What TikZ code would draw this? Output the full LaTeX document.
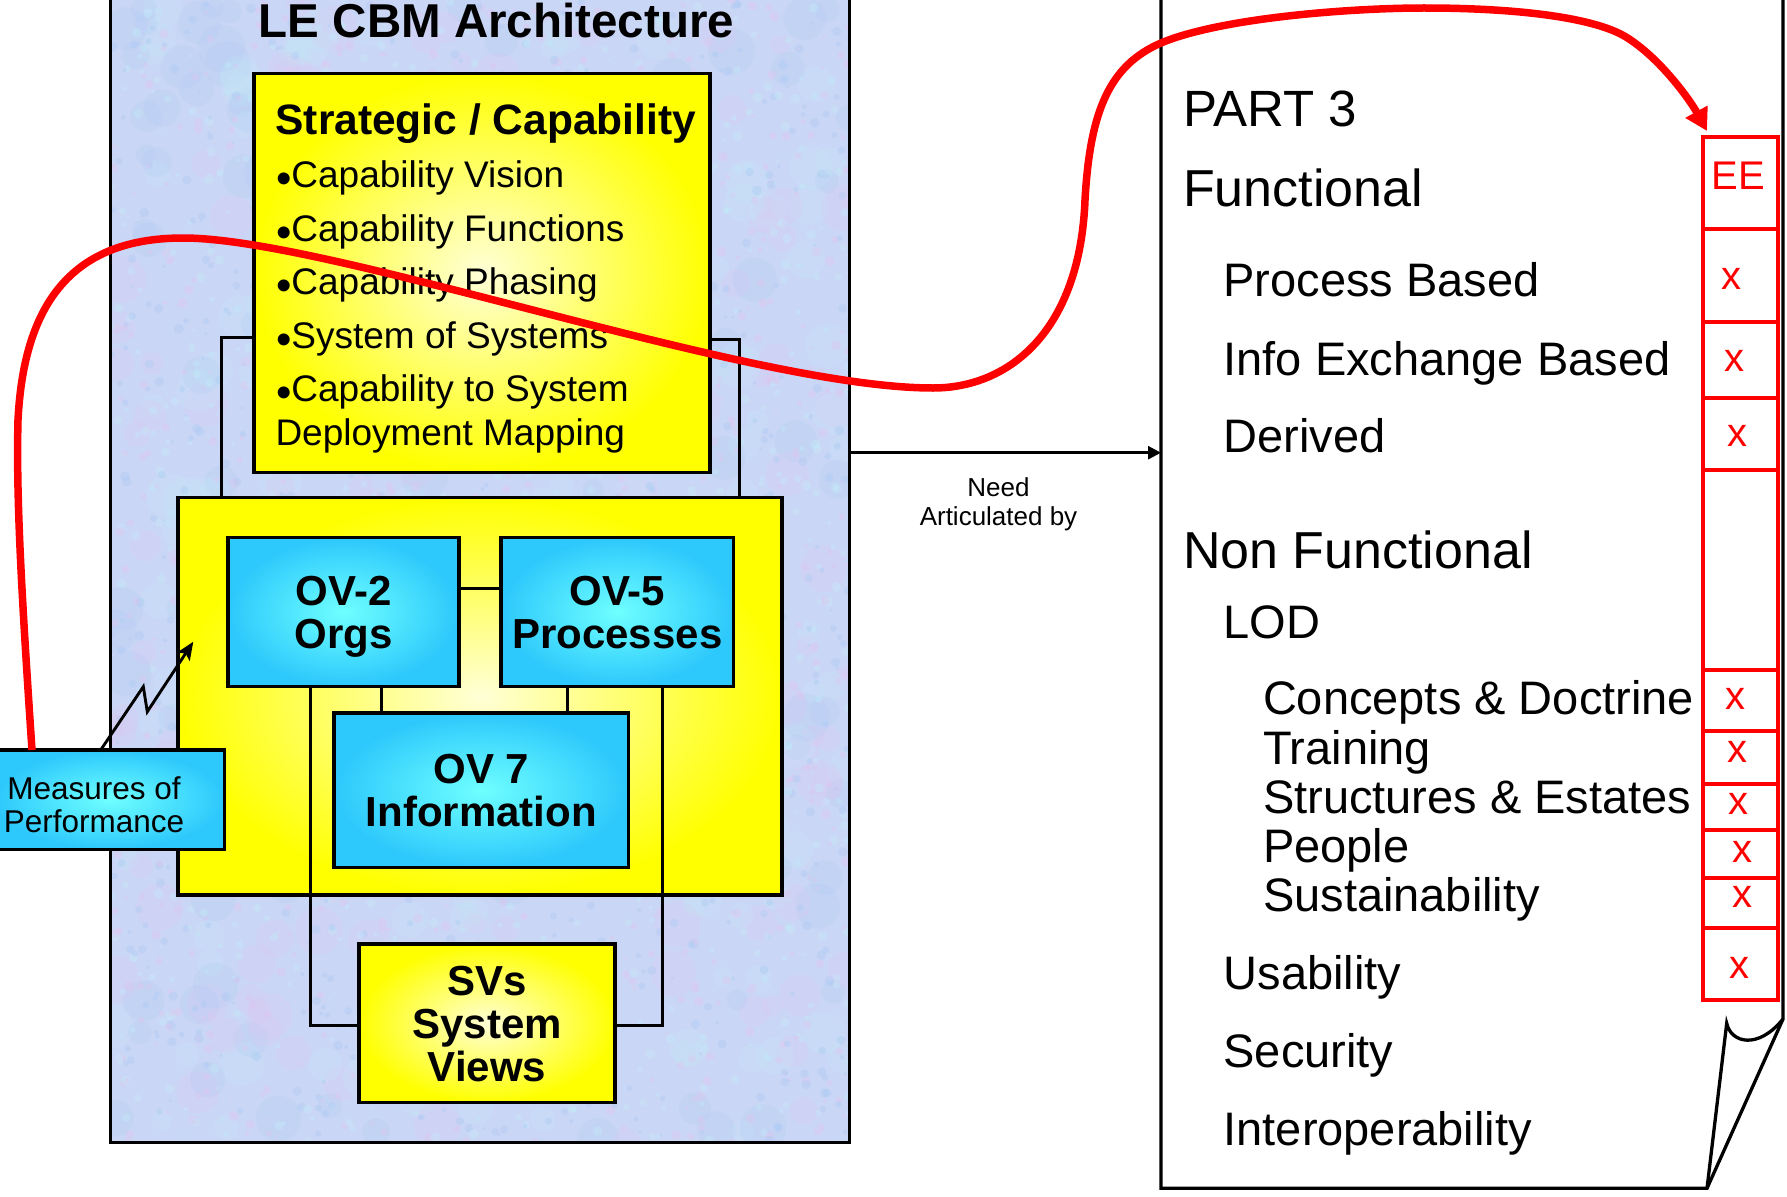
\documentclass[tikz,border=0pt]{standalone}
\usepackage{fontspec}
\setmainfont{Liberation Sans}
\usetikzlibrary{arrows.meta}

\definecolor{lav}{RGB}{202,214,245}
\definecolor{blot1}{RGB}{226,196,240}
\definecolor{blot2}{RGB}{168,202,244}
\definecolor{blot3}{RGB}{194,238,250}
\definecolor{yout}{RGB}{255,255,0}
\definecolor{yin}{RGB}{255,255,215}
\definecolor{bout}{RGB}{45,200,252}
\definecolor{bin}{RGB}{110,255,255}
\definecolor{redc}{RGB}{255,0,0}

\newcommand\bul{\raisebox{-6pt}{\fontsize{44}{44}\selectfont •}}

\begin{document}
\begin{tikzpicture}[x=1pt,y=-1pt,
  every node/.style={inner sep=0pt, outer sep=0pt},
  ybox/.style={rectangle, draw=black, line width=3.5pt, shading=radial, inner color=yin, outer color=yout},
  bbox/.style={rectangle, draw=black, line width=3.5pt, shading=radial, inner color=bin, outer color=bout},
  conn/.style={draw=black, line width=3pt},
  boldlbl/.style={align=center, text depth=0pt, font=\bfseries\fontsize{42}{43}\selectfont},
  bulletline/.style={anchor=base west, font=\fontsize{37}{40}\selectfont},
  pagehead/.style={anchor=base west, font=\fontsize{52}{56}\selectfont},
  pageitem/.style={anchor=base west, font=\fontsize{47}{50}\selectfont},
  redmark/.style={anchor=base, text=redc, font=\fontsize{40}{44}\selectfont},
  redcell/.style={draw=redc, line width=4pt},
  pageline/.style={draw=black, line width=3.3pt},
  redcurve/.style={draw=redc, line width=7.5pt, -{Triangle[length=22pt,width=24pt]}}
]
\useasboundingbox (0,0) rectangle (1787,1196);

% ---------- architecture panel with mottled paper texture ----------
\node[fill=lav, minimum width=738.5, minimum height=1160, anchor=north west] (panel) at (110.5,-18) {};
\begin{scope}
  \clip (panel.north west) rectangle (panel.south east);
  \pgfmathsetseed{4242}
  % soft large patches
  \foreach \i in {1,...,500}{
    \pgfmathsetmacro{\bx}{110+740*rnd}
    \pgfmathsetmacro{\by}{1145*rnd}
    \pgfmathsetmacro{\br}{10+14*rnd}
    \pgfmathtruncatemacro{\bc}{random(1,3)}
    \fill[blot\bc, opacity=0.18] (\bx,\by) circle (\br);
  }
  % fine grain
  \foreach \i in {1,...,2600}{
    \pgfmathsetmacro{\bx}{110+740*rnd}
    \pgfmathsetmacro{\by}{1145*rnd}
    \pgfmathsetmacro{\br}{1.5+3.5*rnd}
    \pgfmathtruncatemacro{\bc}{random(1,3)}
    \fill[blot\bc, opacity=0.35] (\bx,\by) circle (\br);
  }
\end{scope}
\draw[line width=3pt] (panel.north west) rectangle (panel.south east);

\node[anchor=base, font=\bfseries\fontsize{47.5}{50}\selectfont] (title) at (496.5,38) {LE CBM Architecture};

% ---------- strategic / capability ----------
\node[ybox, minimum width=456, minimum height=399] (strat) at (482,273) {};
\node[ybox, minimum width=604, minimum height=397.5] (ovbox) at (480,696.25) {};
\draw[conn] (strat.west |- 0,337) -| (221,0 |- ovbox.north);
\draw[conn] (strat.east |- 0,339.5) -| (739,0 |- ovbox.north);

\node[anchor=base west, font=\bfseries\fontsize{42.5}{44}\selectfont] (sc0) at (275.5,135) {Strategic / Capability};
\foreach \yy/\lbl [count=\k] in {187.5/Capability Vision, 241/Capability Functions, 294.7/Capability Phasing, 348/System of Systems, 401.8/Capability to System}{
  \node[bulletline] (sc\k) at (276,\yy) {\bul\lbl};
}
\node[bulletline] (sc6) at (275.5,445.8) {Deployment Mapping};

% ---------- operational views ----------
\node[bbox, boldlbl, minimum width=231, minimum height=148.7] (ov2) at (343.5,612) {OV-2\\Orgs};
\node[bbox, boldlbl, minimum width=232.6, minimum height=148.7] (ov5) at (617.3,612) {OV-5\\Processes};
\node[bbox, boldlbl, minimum width=294.6, minimum height=154.5] (ov7) at (481.3,790.25) {OV 7\\Information};
\draw[conn] (ov2.east |- 0,588.8) -- (ov5.west |- 0,588.8);
\draw[conn] (381.7,0 |- ov2.south) -- (381.7,0 |- ov7.north);
\draw[conn] (567,0 |- ov5.south) -- (567,0 |- ov7.north);

% ---------- system views ----------
\node[ybox, boldlbl, minimum width=256, minimum height=158.7] (svs) at (487,1023.35) {SVs\\System\\Views};
\draw[conn] (310,0 |- ov2.south) |- (svs.west |- 0,1025);
\draw[conn] (662,0 |- ov5.south) |- (svs.east |- 0,1025);

% ---------- measures of performance ----------
\node[bbox, minimum width=229.5, minimum height=99.3] (mop) at (109.75,799.65) {};
\node[anchor=base, font=\fontsize{31.5}{33}\selectfont] (mop1) at (94,799.6) {Measures of};
\node[anchor=base, font=\fontsize{31.5}{33}\selectfont] (mop2) at (94,832) {Performance};
\coordinate (boltTip) at (193.3,641.7);
\draw[line width=2.9pt, -{Stealth[length=18pt,width=15pt,inset=4pt]}]
  ([xshift=105.7pt]mop.north west) -- (143.3,686.7) -- (147.3,711.7) -- (boltTip);

% ---------- requirements page with curled corner ----------
\draw[pageline, fill=white] (1161,-14) -- (1161,1188.3) -- (1707,1188.3) -- (1783,1019) -- (1783,-14);
\draw[pageline] (1707,1188.3) -- (1726.7,1023.3) .. controls (1731,1043) and (1758,1050) .. (1783,1019);
\coordinate (pageW) at (1161,452.7);
\draw[line width=2.7pt, -{Triangle[length=13pt,width=13pt]}] (panel.east |- pageW) -- (pageW);
\node[anchor=base, font=\fontsize{26}{28}\selectfont] (need1) at (998.5,496.7) {Need};
\node[anchor=base, font=\fontsize{26}{28}\selectfont] (need2) at (998.5,525) {Articulated by};

\node[pagehead, font=\fontsize{51}{56}\selectfont] (p0) at (1183,126.3) {PART 3};
\node[pagehead] (p1) at (1183,206.7) {Functional};
\node[pageitem] (p2) at (1223.6,296.6) {Process Based};
\node[pageitem] (p3) at (1223.6,375) {Info Exchange Based};
\node[pageitem] (p4) at (1223.6,452.7) {Derived};
\node[pagehead] (p5) at (1183,568.3) {Non Functional};
\node[pageitem] (p6) at (1223.6,638) {LOD};
\node[pageitem] (p7) at (1263,714) {Concepts \& Doctrine};
\node[pageitem] (p8) at (1263,764) {Training};
\node[pageitem] (p9) at (1263,813.6) {Structures \& Estates};
\node[pageitem] (p10) at (1263,862.3) {People};
\node[pageitem] (p11) at (1263,911.7) {Sustainability};
\node[pageitem] (p12) at (1223.6,989.6) {Usability};
\node[pageitem] (p13) at (1223.6,1067.5) {Security};
\node[pageitem] (p14) at (1223.6,1145.4) {Interoperability};

% ---------- red assessment column ----------
\node[redcell, rectangle, minimum width=75.5, minimum height=91.5] (ee) at (1740.25,182.75) {};
\foreach \t/\b in {228.5/321.5, 321.5/398, 398/470, 470/669.6, 669.6/731, 731/784.3, 784.3/830, 830/877.5, 877.5/927.6, 927.6/1000}{
  \draw[redcell] (1702.5,\t) rectangle (1778,\b);
}
\node[redmark] (eetxt) at (1738,189.4) {EE};
\foreach \xx/\yy [count=\k] in {1731/289, 1734.5/371, 1737.6/446, 1735.4/709.5, 1737.6/762.3, 1738.5/814, 1742.8/862.3, 1742.8/907.9, 1739.8/978}{
  \node[redmark] (mk\k) at (\xx,\yy) {x};
}

% ---------- red trace from measures of performance to the EE column ----------
\draw[redcurve] ([xshift=37pt]mop.north west)
  .. controls (22,600) and (16,500) .. (18,420)
  .. controls (24,300) and (75,238) .. (183,238)
  .. controls (330,238) and (750,388) .. (933,388)
  .. controls (1010,388) and (1080,330) .. (1085,200)
  .. controls (1090,110) and (1110,65) .. (1161,43)
  .. controls (1220,18) and (1350,8) .. (1424,8)
  .. controls (1520,8) and (1595,18) .. (1626,37)
  .. controls (1660,58) and (1690,100) .. ([shift={(4.5pt,6pt)}]ee.north west);
\end{tikzpicture}
\end{document}
